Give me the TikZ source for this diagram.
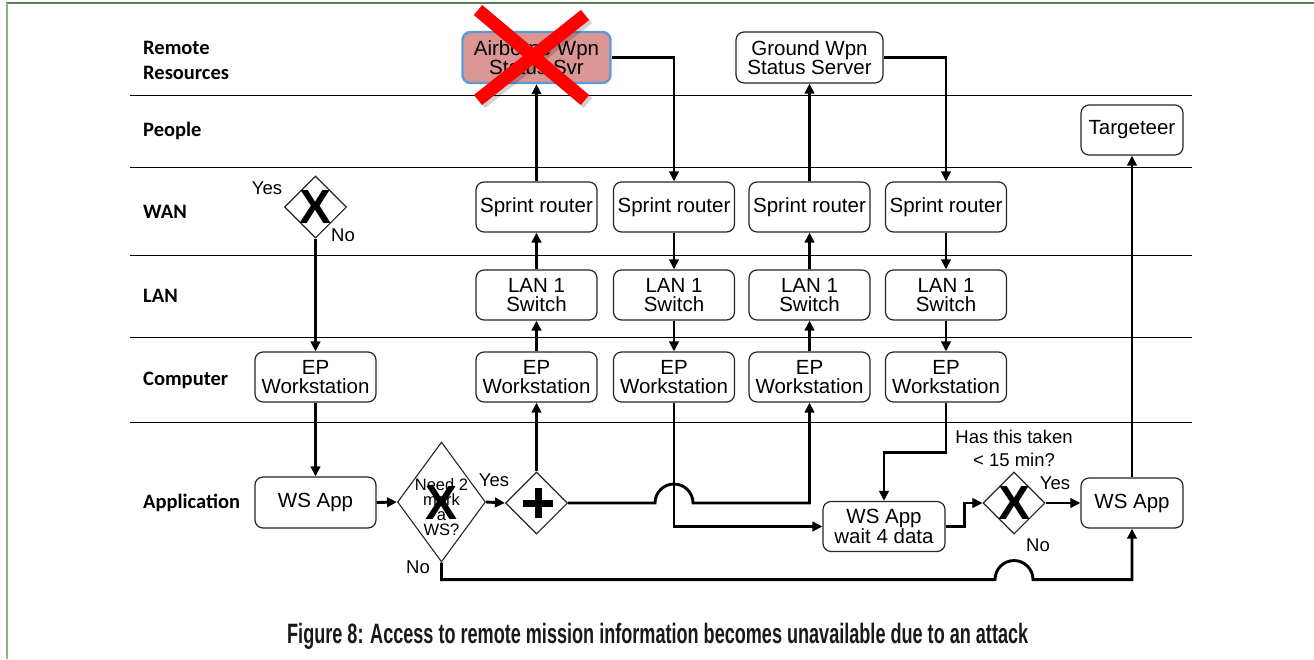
\documentclass[tikz,border=0pt]{standalone}
\usepackage{fontspec}
\usepackage{graphicx}
\setmainfont{Liberation Sans}
\newfontfamily\lanefont{Carlito}
\usetikzlibrary{shapes.geometric,arrows.meta,calc}
\definecolor{frametop}{HTML}{5E7D50}
\definecolor{frameleft}{HTML}{8DB580}
\definecolor{airfill}{HTML}{D99694}
\definecolor{airedge}{HTML}{5B9BD5}
\newcommand\ndfont{\fontsize{20.5}{19}\selectfont}
\begin{document}
\begin{tikzpicture}[x=1pt,y=1pt,
  box/.style={draw=black!85, line width=1.2pt, rounded corners=8pt, fill=white, align=center, font=\ndfont, inner sep=0pt, minimum width=121pt, minimum height=50pt},
  gate/.style={diamond, draw=black!85, line width=1.1pt, fill=white, inner sep=0pt, minimum width=62pt, minimum height=62pt},
  conn/.style={line width=2.9pt, -{Triangle[length=10pt,width=9.5pt]}},
  lane/.style={line width=0.9pt},
  lanelabel/.style={anchor=west, inner sep=0pt, font=\lanefont\bfseries\fontsize{20.5}{25}\selectfont, align=left},
  lbl/.style={font=\fontsize{18.5}{23}\selectfont, align=center},
  xmark/.style={font=\fontsize{48}{48}\selectfont\bfseries, inner sep=0pt},
]
\useasboundingbox (0,0) rectangle (1314,-659);
% frame
\draw[frametop, line width=2pt] (6,-3) -- (1314,-3);
\draw[frameleft, line width=2pt] (7,-3) -- (7,-659);
% lanes
\foreach \yy in {95,167,255,337,422} \draw[lane] (130,-\yy) -- (1192,-\yy);
\node[lanelabel] (lrr) at (143,-60) {Remote\\Resources};
\node[lanelabel] (lpe) at (143,-131) {People};
\node[lanelabel] (lwa) at (143,-212) {WAN};
\node[lanelabel] (lla) at (143,-296) {LAN};
\node[lanelabel] (lco) at (143,-380) {Computer};
\node[lanelabel] (lap) at (143,-503) {Application};

% nodes
\node[box, minimum width=148pt, minimum height=51pt, fill=airfill, draw=airedge, line width=2.4pt] (air) at (536.5,-57.5) {Airborne Wpn\\Status Svr};
\node[box, minimum width=147pt, minimum height=51pt] (gnd) at (809.5,-57.5) {Ground Wpn\\Status Server};
\node[box, minimum width=102pt] (targ) at (1132,-130) {Targeteer};

\node[box] (sr1) at (536.5,-207) {Sprint router};
\node[box] (sr2) at (674,-207) {Sprint router};
\node[box] (sr3) at (809.5,-207) {Sprint router};
\node[box] (sr4) at (946,-207) {Sprint router};

\node[box] (lan1) at (536.5,-295) {LAN 1\\Switch};
\node[box] (lan2) at (674,-295) {LAN 1\\Switch};
\node[box] (lan3) at (809.5,-295) {LAN 1\\Switch};
\node[box] (lan4) at (946,-295) {LAN 1\\Switch};

\node[box] (ep0) at (315.5,-377) {EP\\Workstation};
\node[box] (ep1) at (536.5,-377) {EP\\Workstation};
\node[box] (ep2) at (674,-377) {EP\\Workstation};
\node[box] (ep3) at (809.5,-377) {EP\\Workstation};
\node[box] (ep4) at (946,-377) {EP\\Workstation};

\node[box, minimum height=51pt] (ws0) at (315.5,-502.5) {WS App};
\node[box, minimum width=122pt] (wait) at (884,-526.5) {WS App\\wait 4 data};
\node[box, minimum width=102pt] (ws1) at (1132,-503) {WS App};

\node[gate] (wanx) at (315.5,-207) {};
\node[gate, minimum width=88pt, minimum height=120pt] (need) at (441.5,-502) {};
\node[gate] (plus) at (536.5,-503) {};
\node[gate] (xd) at (1014,-503) {};

% connectors
\draw[conn] (wanx.south) -- (ep0.north);
\draw[conn] (ep0.south) -- (ws0.north);
\draw[conn] (ws0.east) -- (need.west);
\draw[conn] (need.east) -- (plus.west);
\draw[conn] (plus.north) -- (ep1.south);
\draw[conn] (ep1.north) -- (lan1.south);
\draw[conn] (lan1.north) -- (sr1.south);
\draw[conn] (sr1.north) -- (air.south);
\draw[conn] (air.east) -| (sr2.north);
\draw[conn] (sr2.south) -- (lan2.north);
\draw[conn] (lan2.south) -- (ep2.north);
\draw[conn] (ep2.south) |- (wait.west);
\draw[conn] (plus.east) -- ($(ep2.south |- plus.east)+(-19,0)$) arc[start angle=180, end angle=0, radius=19] -| (ep3.south);
\draw[conn] (ep3.north) -- (lan3.south);
\draw[conn] (lan3.north) -- (sr3.south);
\draw[conn] (sr3.north) -- (gnd.south);
\draw[conn] (gnd.east) -| (sr4.north);
\draw[conn] (sr4.south) -- (lan4.north);
\draw[conn] (lan4.south) -- (ep4.north);
\draw[conn] (ep4.south) -- ++(0,-50) -| (wait.north);
\draw[conn] (wait.east) -- ++(19,0) |- (xd.west);
\draw[conn] (xd.east) -- (ws1.west);
\draw[conn] (ws1.north) -- (targ.south);
\draw[conn] (need.south) -- ++(0,-17) -- ($(xd.center |- need.south)+(-19,-17)$) arc[start angle=180, end angle=0, radius=19] -| (ws1.south);

% gate symbols
\node[font=\fontsize{16.5}{15}\selectfont, align=center] (needtxt) at (441.5,-507) {Need 2\\mark\\a\\WS?};
\node[xmark] (x1) at (315.5,-207) {X};
\node[xmark] (x2) at (441.5,-503) {X};
\node[xmark] (x3) at (1014,-503) {X};
\fill (523,-499.5) rectangle (553,-506.5);
\fill (534.5,-488) rectangle (541.5,-518);

% labels
\node[lbl] (y1) at (267,-188) {Yes};
\node[lbl] (n1) at (343,-235) {No};
\node[lbl] (y2) at (494,-480) {Yes};
\node[lbl] (n2) at (418,-567) {No};
\node[lbl] (q) at (1014,-448) {Has this taken\\< 15 min?};
\node[lbl] (y3) at (1055,-483) {Yes};
\node[lbl] (n3) at (1038,-545) {No};

% red cross
\begin{scope}[line width=13pt]
\draw[black, opacity=0.18] (481,-13) -- (588,-103);
\draw[black, opacity=0.18] (588,-18) -- (481,-103);
\draw[red] (478,-10) -- (585,-100);
\draw[red] (585,-15) -- (478,-100);
\end{scope}

% caption
\node[anchor=base west, inner sep=0pt, font=\fontsize{28}{28}\selectfont\bfseries, text=black!90] (cap) at (287,-643) {\resizebox{741pt}{\height}{Figure 8: Access to remote mission information becomes unavailable due to an attack}};
\end{tikzpicture}
\end{document}
